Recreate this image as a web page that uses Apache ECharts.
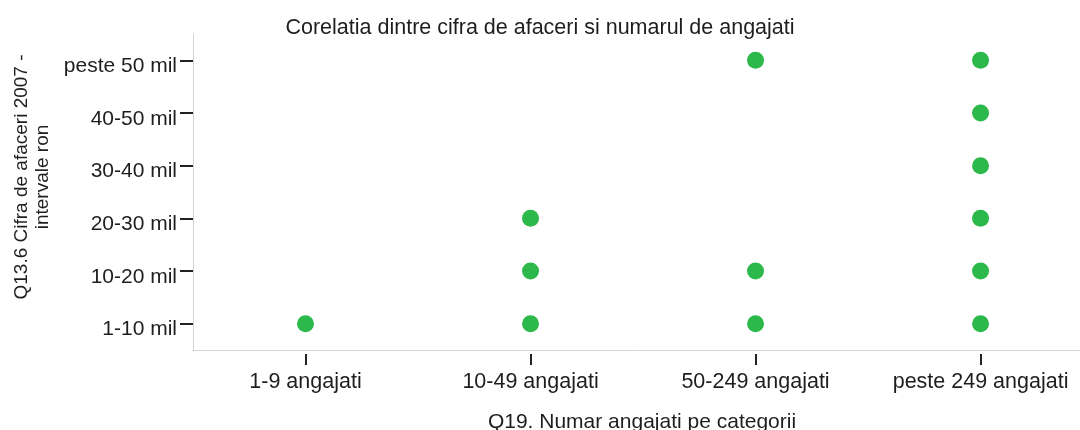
<!DOCTYPE html>
<html>
<head>
<meta charset="utf-8">
<script src="https://cdn.jsdelivr.net/npm/echarts@6/dist/echarts.min.js"></script>
<style>
html,body{margin:0;padding:0;background:#fff;overflow:hidden;}
#c{width:1080px;height:430px;}
</style>
</head>
<body>
<div id="c"></div>
<script>
const titleText = 'Corelatia dintre cifra de afaceri si numarul de angajati';
const xName = 'Q19. Numar angajati pe categorii';
const yName = 'Q13.6 Cifra de afaceri 2007 -\nintervale ron';
const xCategories = ['1-9 angajati', '10-49 angajati', '50-249 angajati', 'peste 249 angajati'];
const yCategories = ['1-10 mil', '10-20 mil', '20-30 mil', '30-40 mil', '40-50 mil', 'peste 50 mil'];
// observed combinations (employees category, turnover category)
const pointEmployees = [
  '1-9 angajati',
  '10-49 angajati', '10-49 angajati', '10-49 angajati',
  '50-249 angajati', '50-249 angajati', '50-249 angajati',
  'peste 249 angajati', 'peste 249 angajati', 'peste 249 angajati',
  'peste 249 angajati', 'peste 249 angajati', 'peste 249 angajati'
];
const pointTurnover = [
  '1-10 mil',
  '1-10 mil', '10-20 mil', '20-30 mil',
  '1-10 mil', '10-20 mil', 'peste 50 mil',
  '1-10 mil', '10-20 mil', '20-30 mil',
  '30-40 mil', '40-50 mil', 'peste 50 mil'
];

const FONT = '"Liberation Sans", Arial, sans-serif';
const TXT = '#1e1e1e';
const chart = echarts.init(document.getElementById('c'), null, {renderer: 'canvas'});
// x axis: category index positions on a value scale (the plot extends past the right edge)
const xIdx = xCategories.map((_, i) => i);
const X_MIN = -0.5, X_MAX = 3.442;
const pts = pointEmployees.map((e, i) => [xCategories.indexOf(e), pointTurnover[i]]);
const xFmt = v => xCategories[Math.round(v)] || '';

chart.setOption({
  animation: false,
  backgroundColor: '#ffffff',
  title: {
    text: titleText,
    left: 'center',
    top: 12,
    textStyle: {fontFamily: FONT, fontSize: 21.5, fontWeight: 'normal', color: TXT}
  },
  grid: {left: 193, top: 34, right: 0, height: 316},
  xAxis: [
    {
      type: 'value', min: X_MIN, max: X_MAX,
      axisLine: {show: true, onZero: false, lineStyle: {color: '#d4d4d4', width: 1}},
      axisTick: {show: false}, axisLabel: {show: false}, splitLine: {show: false}
    },
    {
      type: 'value', min: X_MIN, max: X_MAX, position: 'bottom', offset: 4,
      axisLine: {show: false, onZero: false},
      axisTick: {show: true, customValues: xIdx, length: 11, lineStyle: {color: '#222', width: 2}},
      axisLabel: {show: true, customValues: xIdx, formatter: xFmt, margin: 17,
        fontFamily: FONT, fontSize: 21.5, color: TXT},
      splitLine: {show: false}
    }
  ],
  yAxis: {
    type: 'category', data: yCategories, boundaryGap: true,
    axisLine: {show: true, onZero: false, lineStyle: {color: '#d4d4d4', width: 1}},
    axisTick: {show: true, alignWithLabel: true, length: 13, lineStyle: {color: '#222', width: 2}},
    axisLabel: {margin: 16, fontFamily: FONT, fontSize: 21, color: TXT,
      verticalAlign: 'top', lineHeight: 12},
    splitLine: {show: false}
  },
  graphic: [
    {
      type: 'text',
      x: 32, y: 177,
      rotation: Math.PI / 2,
      style: {
        text: yName, align: 'center', verticalAlign: 'middle',
        font: '19px "Liberation Sans", Arial, sans-serif', fill: TXT, lineHeight: 21
      }
    },
    {
      type: 'text',
      x: 642, y: 422,
      style: {
        text: xName, align: 'center', verticalAlign: 'middle',
        font: '21px "Liberation Sans", Arial, sans-serif', fill: TXT
      }
    }
  ],
  series: [{
    type: 'scatter',
    xAxisIndex: 0, yAxisIndex: 0,
    data: pts,
    symbol: 'circle', symbolSize: 17,
    itemStyle: {color: '#2cb84a', opacity: 1}
  }]
});
</script>
</body>
</html>
